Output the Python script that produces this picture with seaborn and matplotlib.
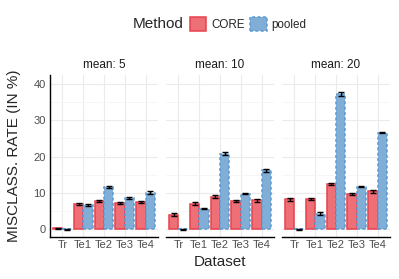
import numpy as np
import pandas as pd
import seaborn as sns
import matplotlib.pyplot as plt
from matplotlib.patches import Patch

# Datos
datasets = ["Tr", "Te1", "Te2", "Te3", "Te4"]
means = [5, 10, 20]
methods = ["CORE", "pooled"]

core_m5 = [0.3, 6.9, 7.9, 7.3, 7.5]
pooled_m5 = [0.05, 6.7, 11.7, 8.7, 10.1]
core_m10 = [4.0, 7.1, 8.9, 7.8, 8.0]
pooled_m10 = [0.05, 5.7, 20.8, 9.8, 16.2]
core_m20 = [8.3, 8.3, 12.5, 9.6, 10.4]
pooled_m20 = [0.05, 4.3, 37.1, 11.7, 26.6]

core_err_m5 = [0.15, 0.3, 0.25, 0.25, 0.2]
pooled_err_m5 = [0.1, 0.3, 0.25, 0.25, 0.4]
core_err_m10 = [0.4, 0.35, 0.4, 0.35, 0.4]
pooled_err_m10 = [0.1, 0.15, 0.45, 0.15, 0.35]
core_err_m20 = [0.45, 0.35, 0.35, 0.3, 0.35]
pooled_err_m20 = [0.1, 0.35, 0.5, 0.15, 0.15]

valores = {5: (core_m5, pooled_m5), 10: (core_m10, pooled_m10), 20: (core_m20, pooled_m20)}
errores = {5: (core_err_m5, pooled_err_m5), 10: (core_err_m10, pooled_err_m10),
           20: (core_err_m20, pooled_err_m20)}

filas = []
for m in means:
    for meth, vals, errs in zip(methods, valores[m], errores[m]):
        for d, v, e in zip(datasets, vals, errs):
            filas.append({"mean": m, "Method": meth, "Dataset": d, "rate": v, "err": e})
df = pd.DataFrame(filas)

sns.set_theme(style="whitegrid")
plt.rcParams['font.family'] = ['Liberation Sans', 'DejaVu Sans']

colores = {"CORE": "#EE6F76", "pooled": "#80AED6"}
bordes = {"CORE": "#E8414E", "pooled": "#5E9BD0"}
estilos = {"CORE": "-", "pooled": (0, (2, 1.5))}

fig = plt.figure(figsize=(3.99, 2.79), dpi=100)
W, H = 399, 279
lefts = [50, 166, 282]
ancho = 108
top_px, bot_px = 75, 237

for i, m in enumerate(means):
    ax = fig.add_axes([lefts[i] / W, 1 - bot_px / H, ancho / W, (bot_px - top_px) / H])
    sub = df[df["mean"] == m]
    sns.barplot(data=sub, x="Dataset", y="rate", hue="Method", order=datasets,
                hue_order=methods, palette=colores, width=0.9, errorbar=None,
                legend=False, ax=ax, saturation=1)
    for cont, meth in zip(ax.containers, methods):
        errs = sub[sub["Method"] == meth].set_index("Dataset").loc[datasets, "err"].values
        xs = []
        ys = []
        for bar in cont:
            bar.set_edgecolor(bordes[meth])
            bar.set_linewidth(1.1)
            bar.set_linestyle(estilos[meth])
            xs.append(bar.get_x() + bar.get_width() / 2)
            ys.append(bar.get_height())
        ax.errorbar(xs, ys, yerr=errs, fmt="none", ecolor="black", elinewidth=1.0,
                    capsize=2.3, capthick=1.0, zorder=5)

    ax.set_xlim(-0.6, 4.6)
    ax.set_ylim(-2.1, 42.4)
    ax.set_yticks([0, 10, 20, 30, 40])
    ax.set_yticks([5, 15, 25, 35], minor=True)
    ax.grid(True, which="major", color="#EBEBEB", linewidth=0.8)
    ax.grid(True, which="minor", axis="y", color="#F3F3F3", linewidth=0.5)
    ax.set_axisbelow(True)
    for s in ["top", "right", "left"]:
        ax.spines[s].set_visible(False)
    ax.spines["bottom"].set_color("black")
    ax.spines["bottom"].set_linewidth(1.0)
    ax.tick_params(axis="both", length=0, pad=2, labelsize=8, labelcolor="#4D4D4D")
    ax.set_xlabel("")
    ax.set_ylabel("")
    ax.set_title(f"mean: {m}", fontsize=8.5, color="#1A1A1A", pad=5)
    if i == 0:
        ax.spines["left"].set_visible(True)
        ax.spines["left"].set_color("black")
        ax.spines["left"].set_linewidth(1.0)
        ax.tick_params(axis="y", labelsize=8, pad=3)
    else:
        ax.set_yticklabels([])

fig.text(220 / W, 1 - 262 / H, "Dataset", ha="center", va="center", fontsize=11)
fig.text(14 / W, 1 - 156 / H, "MISCLASS. RATE (IN %)", ha="center", va="center",
         rotation=90, fontsize=11)

# Leyenda superior
fig.text(133 / W, 1 - 24 / H, "Method", ha="left", va="center", fontsize=11)
handles = [Patch(facecolor=colores[k], edgecolor=bordes[k], linestyle=estilos[k],
                 linewidth=1.1, label=k) for k in methods]
fig.legend(handles=handles, loc="center left", bbox_to_anchor=(190 / W, 1 - 24 / H),
           ncol=2, frameon=False, fontsize=8.4, handlelength=1.4, handleheight=1.4,
           handletextpad=0.4, columnspacing=0.5, borderaxespad=0, borderpad=0)

fig.savefig("out.png", dpi=100)
